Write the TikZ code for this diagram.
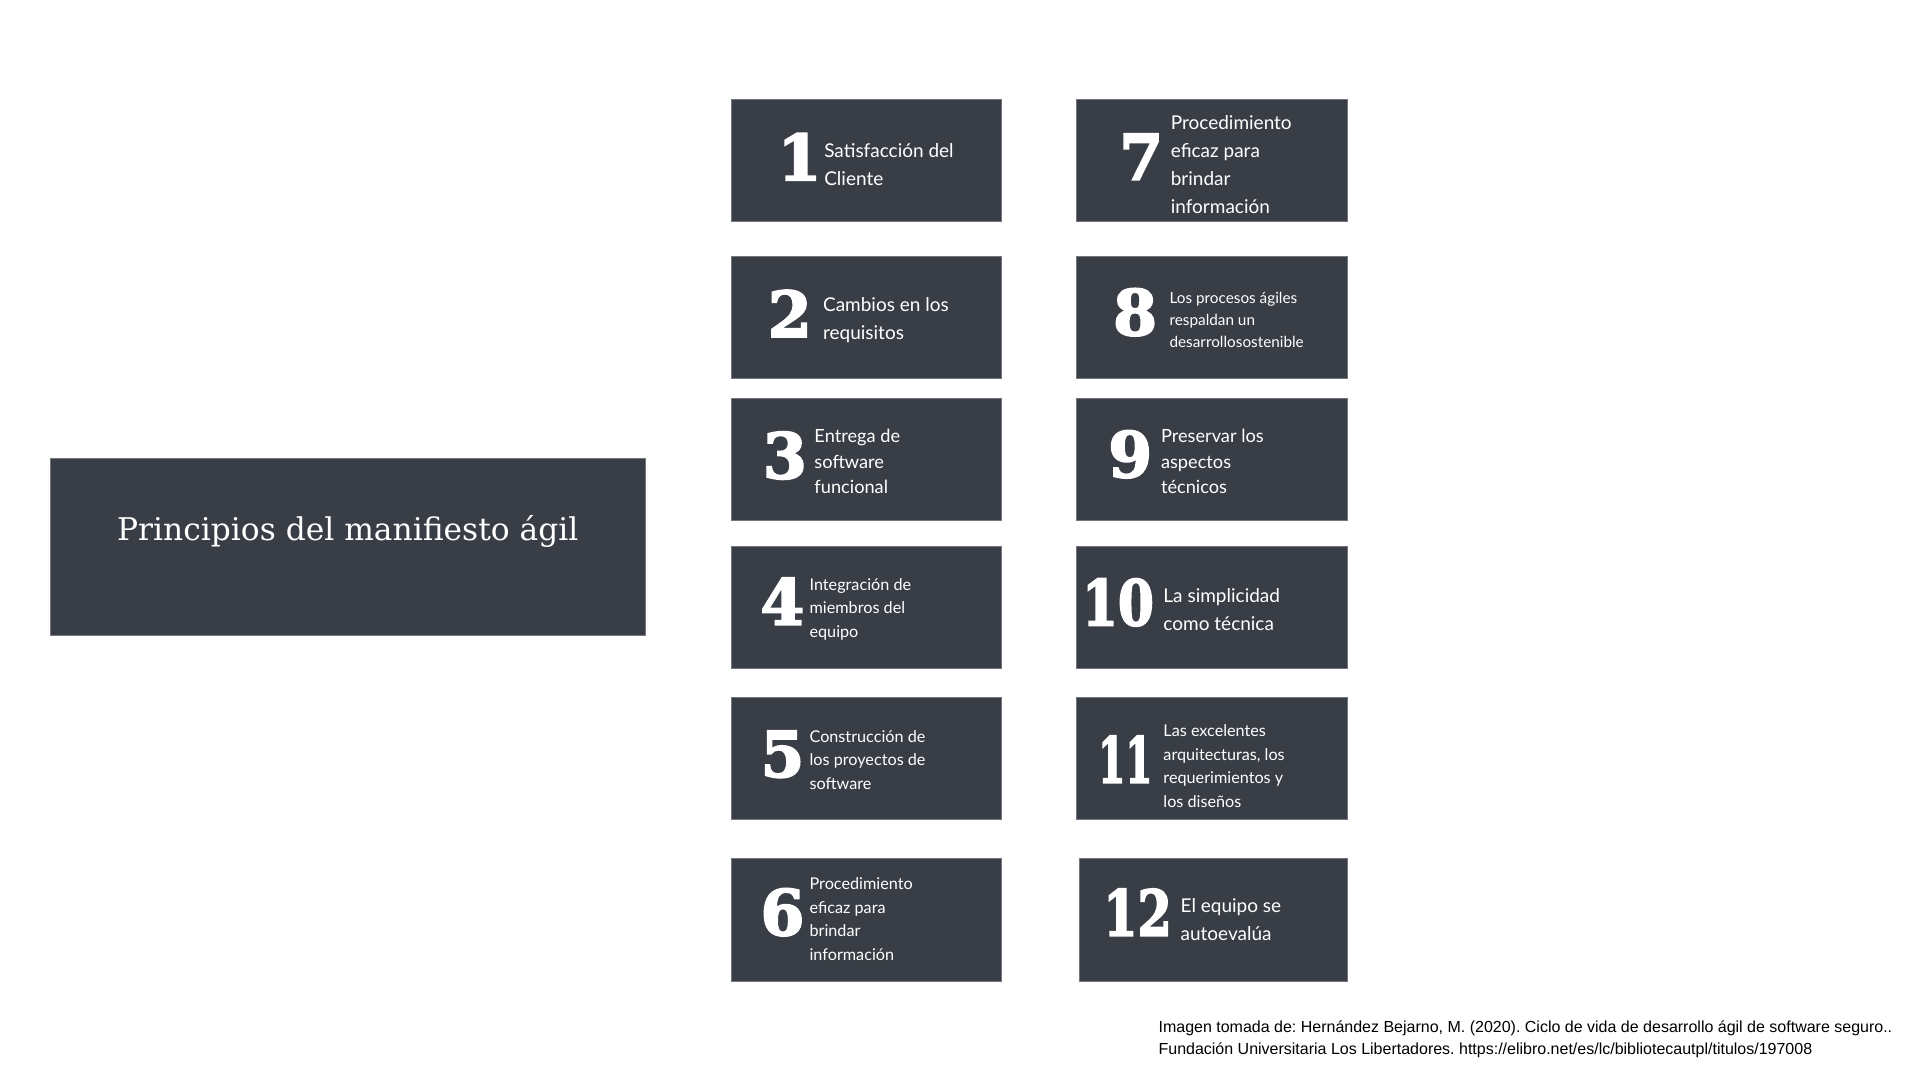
\documentclass[tikz,border=0pt]{standalone}
\usepackage{fontspec}
\setmainfont{Lato}
\newfontfamily\numfont[FakeBold=3]{DejaVu Serif Bold}
\newfontfamily\titlefont{DejaVu Serif}
\newfontfamily\citefont{Liberation Sans}
\frenchspacing
\definecolor{boxgray}{HTML}{393E46}
\tikzset{
  x=1.2245pt, y=-1.2245pt,
  card/.style={fill=boxgray, draw=boxgray!70!white, line width=0.4pt, inner sep=0pt,
    minimum width=270.6pt, minimum height=122.5pt},
  titlecard/.style={fill=boxgray, draw=boxgray!70!white, line width=0.4pt, inner sep=0pt,
    minimum width=595pt, minimum height=177.6pt},
  num/.style={text=white, inner sep=0pt, anchor=center, font=\numfont\fontsize{63}{63}\selectfont},
  lbl/.style={text=white, inner sep=0pt, anchor=west, align=left},
  big/.style={font=\fontsize{19}{28}\selectfont},
  mid/.style={font=\fontsize{18.2}{25.7}\selectfont},
  small/.style={font=\fontsize{16.2}{23.5}\selectfont},
  tiny/.style={font=\fontsize{15.3}{22}\selectfont},
}
\begin{document}
\begin{tikzpicture}
\useasboundingbox (0,0) rectangle (1568,882);
\fill[white] (0,0) rectangle (1568,882);

% title
\node[titlecard] (title) at (284,446.5) {};
\node[text=white, inner sep=0pt, font=\titlefont\fontsize{31.3}{33}\selectfont] (titletext) at (284,434) {Principios del manifiesto ágil};

% cards
\node[card] (c1) at (707.5,131) {};
\node[card] (c2) at (707.5,259) {};
\node[card] (c3) at (707.5,375) {};
\node[card] (c4) at (707.5,496) {};
\node[card] (c5) at (707.5,619) {};
\node[card] (c6) at (707.5,751) {};
\node[card] (c7) at (989.5,131) {};
\node[card] (c8) at (989.5,259) {};
\node[card] (c9) at (989.5,375) {};
\node[card] (c10) at (989.5,496) {};
\node[card] (c11) at (989.5,619) {};
\node[card, minimum width=268.2pt] (c12) at (990.5,751) {};

% numbers
\node[num] (n1) at (653,128) {1};
\node[num] (n2) at (645,256) {2};
\node[num] (n3) at (641,372) {3};
\node[num] (n4) at (639,491) {4};
\node[num] (n5) at (639,616) {5};
\node[num] (n6) at (639,745) {6};
\node[num] (n7) at (932,128) {7};
\node[num] (n8) at (927,255) {8};
\node[num] (n9) at (923,371) {9};
\node[num] (n10) at (913,492) {\scalebox{0.82}[1]{10}};
\node[num] (n11) at (919,620) {\scalebox{0.62}[1]{11}};
\node[num] (n12) at (929,745) {\scalebox{0.78}[1]{12}};

% labels
\node[lbl, big] (t1) at (673,134.5) {Satisfacción del\\Cliente};
\node[lbl, big] (t2) at (672,261.5) {Cambios en los\\requisitos};
\node[lbl, mid] (t3) at (665,377) {Entrega de\\software\\funcional};
\node[lbl, small] (t4) at (661,497.5) {Integración de\\miembros del\\equipo};
\node[lbl, small] (t5) at (661,620.5) {Construcción de\\los proyectos de\\software};
\node[lbl, small] (t6) at (661,750.5) {Procedimiento\\eficaz para\\brindar\\información};
\node[lbl, big] (t7) at (956,134) {Procedimiento\\eficaz para\\brindar\\información};
\node[lbl, tiny] (t8) at (955,261) {Los procesos ágiles\\respaldan un\\desarrollosostenible};
\node[lbl, mid] (t9) at (948,377) {Preservar los\\aspectos\\técnicos};
\node[lbl, big] (t10) at (950,497.5) {La simplicidad\\como técnica};
\node[lbl, small] (t11) at (950,625.5) {Las excelentes\\arquitecturas, los\\requerimientos y\\los diseños};
\node[lbl, big] (t12) at (964,751) {El equipo se\\autoevalúa};

% citation
\node[inner sep=0pt, anchor=north west, align=left, text=black,
  font=\citefont\fontsize{16}{22}\selectfont] (cite) at (946,833.5)
  {Imagen tomada de: Hernández Bejarno, M. (2020). Ciclo de vida de desarrollo ágil de software seguro..\\
   Fundación Universitaria Los Libertadores. https://elibro.net/es/lc/bibliotecautpl/titulos/197008};
\end{tikzpicture}
\end{document}
